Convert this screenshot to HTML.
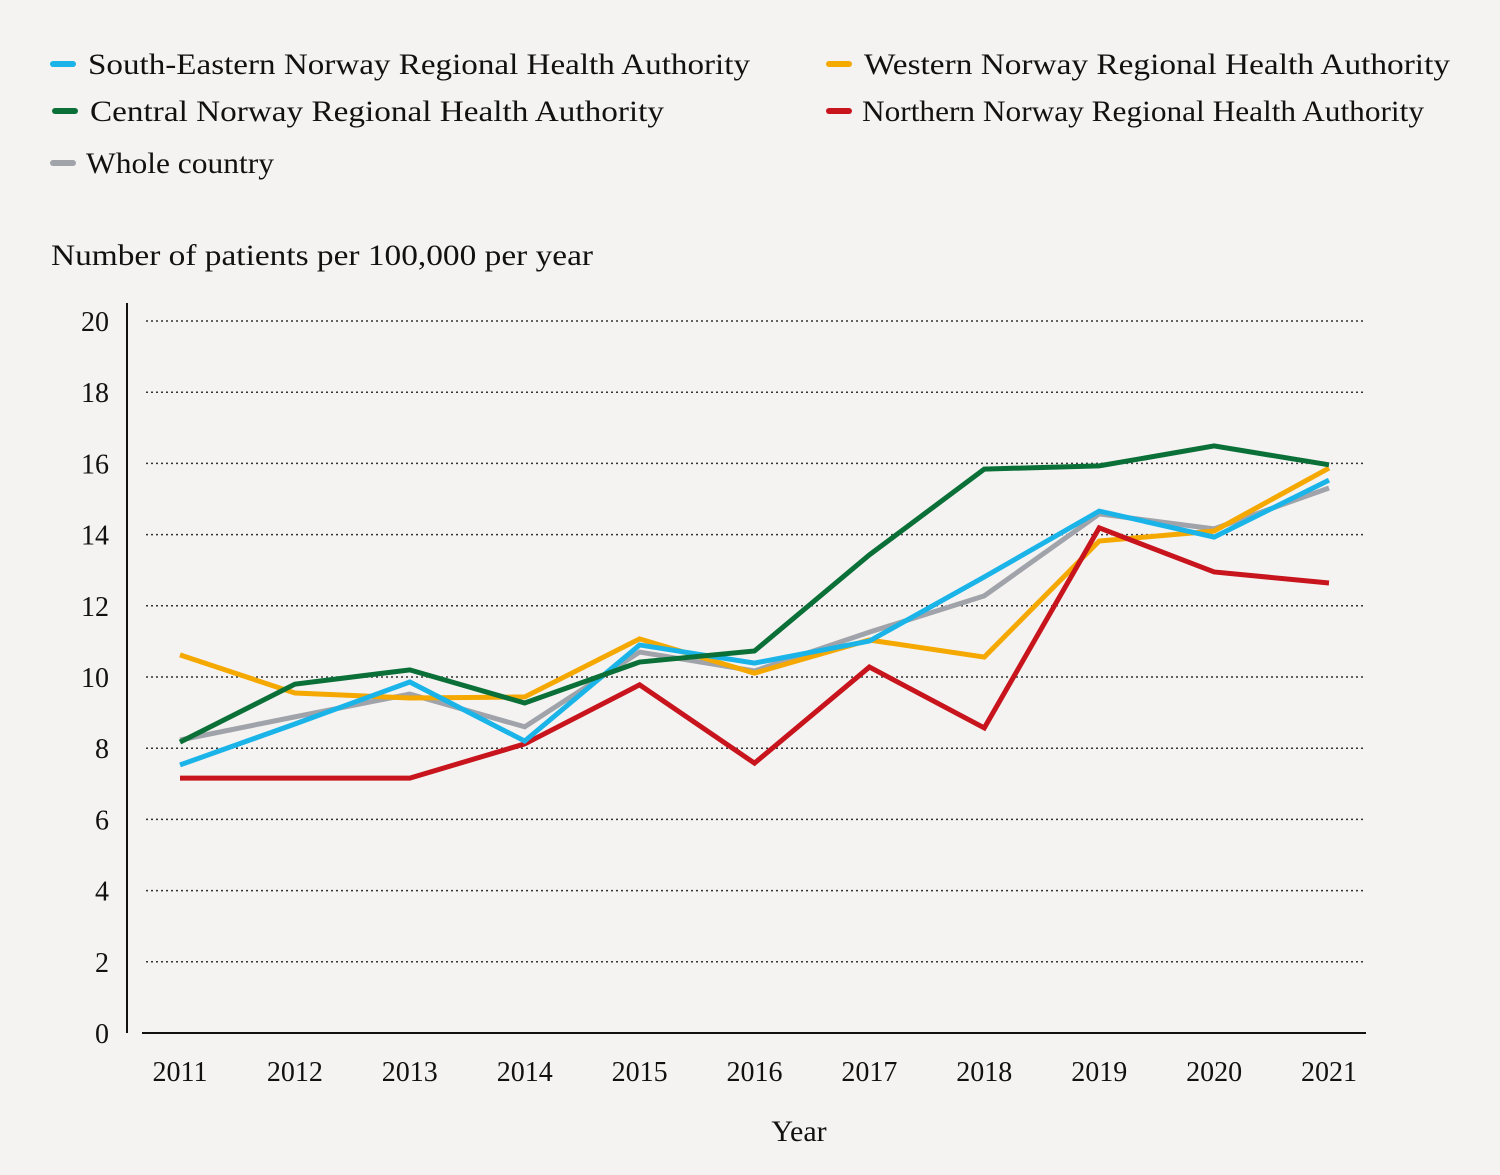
<!DOCTYPE html>
<html><head><meta charset="utf-8"><style>
html,body{margin:0;padding:0;background:#f4f3f1;}
svg{display:block;font-family:"Liberation Serif",serif;}
</style></head><body>
<svg id="chart" width="1500" height="1175" viewBox="0 0 1500 1175">
<rect width="1500" height="1175" fill="#f4f3f1"/>
<g id="legend"></g>
<text x="51" y="265" font-size="30" fill="#111" textLength="542" lengthAdjust="spacingAndGlyphs">Number of patients per 100,000 per year</text>
<g id="grid"></g>
<g id="yticks"></g>
<g id="xticks"></g>
<line x1="127" y1="303" x2="127" y2="1033" stroke="#111" stroke-width="2"/>
<line x1="142" y1="1033" x2="1366" y2="1033" stroke="#111" stroke-width="2"/>
<g id="series"></g>
<text x="799" y="1141" font-size="30" text-anchor="middle" fill="#111">Year</text>
</svg>
<script>
const years = [2011,2012,2013,2014,2015,2016,2017,2018,2019,2020,2021];
const yTicks = [0,2,4,6,8,10,12,14,16,18,20];
const grayVals = [8.23,8.88,9.52,8.6,10.7,10.17,11.26,12.28,14.58,14.16,15.31];
const orangeVals = [10.62,9.55,9.41,9.44,11.07,10.11,11.04,10.56,13.82,14.1,15.87];
const redVals = [7.16,7.16,7.16,8.12,9.78,7.58,10.28,8.57,14.19,12.95,12.64];
const blueVals = [7.53,8.68,9.86,8.2,10.9,10.39,11.01,12.81,14.66,13.93,15.53];
const greenVals = [8.17,9.8,10.2,9.27,10.42,10.73,13.43,15.84,15.93,16.49,15.96];
const seriesNames = ["South-Eastern Norway Regional Health Authority","Western Norway Regional Health Authority","Central Norway Regional Health Authority","Northern Norway Regional Health Authority","Whole country"];

const NS="http://www.w3.org/2000/svg";
function xs(i){return 180+i*(1329-180)/(years.length-1);}
function ys(v){return 1033-v*(1033-321)/20;}
function mk(tag,attrs,parent){const e=document.createElementNS(NS,tag);for(const k in attrs)e.setAttribute(k,attrs[k]);parent.appendChild(e);return e;}

const grid=document.getElementById('grid'), yt=document.getElementById('yticks'), xt=document.getElementById('xticks');
yTicks.forEach(t=>{
  if(t>0){const l=mk('line',{x1:146,x2:1366,y1:ys(t),y2:ys(t),stroke:'#333','stroke-width':1.5,'stroke-dasharray':'2,3'},grid);
  
  }
  const tx=mk('text',{x:109,y:ys(t)+10,'font-size':28,'text-anchor':'end',fill:'#111'},yt);
  tx.textContent=t;
  
  
});
years.forEach((y,i)=>{
  const tx=mk('text',{x:xs(i),y:1081,'font-size':28,'text-anchor':'middle',fill:'#111'},xt);
  tx.textContent=y;
  
  
});
const sg=document.getElementById('series');
const order=[[grayVals,'#a0a4aa','whole-country'],[orangeVals,'#f5a800','western-norway'],[redVals,'#c8141c','northern-norway'],[blueVals,'#1ab4e8','south-eastern-norway'],[greenVals,'#0b7038','central-norway']];
order.forEach(([vals,col,name])=>{
  const p=mk('polyline',{points:vals.map((v,i)=>xs(i)+','+ys(v)).join(' '),fill:'none',stroke:col,'stroke-width':5,'stroke-linejoin':'miter'},sg);
  
  
});
const lg=document.getElementById('legend');
const legendItems=[[50,64,88,'#1ab4e8',seriesNames[0],662],[826,64,864,'#f5a800',seriesNames[1],586],[52,111,90,'#0b7038',seriesNames[2],574],[826,111,862,'#c8141c',seriesNames[3],562],[50,163,86,'#a0a4aa',seriesNames[4],188]];
legendItems.forEach(([mx,my,tx,col,label,w])=>{
  const g=mk('g',{},lg);
  
  
  mk('line',{x1:mx+3,x2:mx+23,y1:my,y2:my,stroke:col,'stroke-width':6,'stroke-linecap':'round'},g);
  const t=mk('text',{x:tx,y:my+10,'font-size':30,fill:'#111',textLength:w,lengthAdjust:'spacingAndGlyphs'},g);
  t.textContent=label;
});
</script>
</body></html>
